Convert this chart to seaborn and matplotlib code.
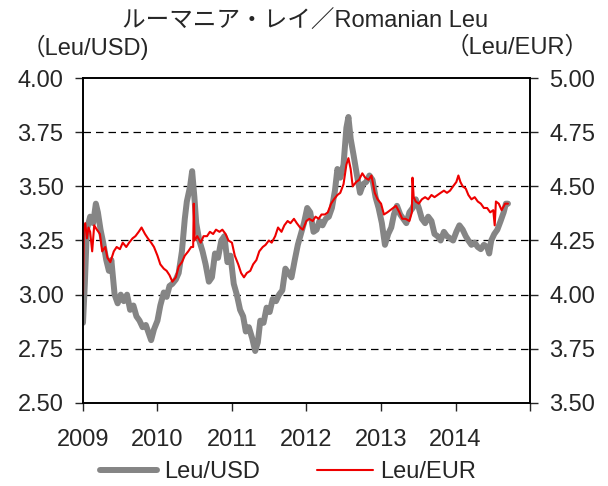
import pandas as pd
import seaborn as sns
import matplotlib
matplotlib.use("Agg")
from matplotlib import pyplot as plt

# Leu/USD (left axis)
usd_dates = [
    "2009-01-01", "2009-01-10", "2009-01-20", "2009-02-05", "2009-02-20", "2009-03-05",
    "2009-03-15", "2009-03-28", "2009-04-10", "2009-04-25", "2009-05-08", "2009-05-20",
    "2009-06-05", "2009-06-20", "2009-07-05", "2009-07-20", "2009-08-05", "2009-08-20",
    "2009-09-05", "2009-09-20", "2009-10-05", "2009-10-20", "2009-11-05", "2009-11-20",
    "2009-12-01", "2009-12-15", "2010-01-01", "2010-01-15", "2010-02-01", "2010-02-15",
    "2010-03-01", "2010-03-15", "2010-04-01", "2010-04-15", "2010-05-01", "2010-05-15",
    "2010-05-25", "2010-06-10", "2010-06-20", "2010-07-01", "2010-07-10", "2010-07-25",
    "2010-08-10", "2010-08-25", "2010-09-10", "2010-09-25", "2010-10-10", "2010-10-25",
    "2010-11-10", "2010-11-25", "2010-12-10", "2010-12-25", "2011-01-10", "2011-01-25",
    "2011-02-10", "2011-02-25", "2011-03-10", "2011-03-25", "2011-04-10", "2011-04-25",
    "2011-05-08", "2011-05-20", "2011-06-05", "2011-06-20", "2011-07-05", "2011-07-20",
    "2011-08-05", "2011-08-20", "2011-09-05", "2011-09-20", "2011-10-05", "2011-10-20",
    "2011-11-05", "2011-11-20", "2011-12-05", "2011-12-20", "2012-01-05", "2012-01-20",
    "2012-02-05", "2012-02-20", "2012-03-05", "2012-03-20", "2012-04-05", "2012-04-20",
    "2012-05-05", "2012-05-20", "2012-06-01", "2012-06-15", "2012-07-01", "2012-07-15",
    "2012-07-25", "2012-08-05", "2012-08-20", "2012-09-05", "2012-09-20", "2012-10-05",
    "2012-10-20", "2012-11-05", "2012-11-20", "2012-12-05", "2012-12-20", "2013-01-05",
    "2013-01-20", "2013-02-05", "2013-02-20", "2013-03-05", "2013-03-20", "2013-04-05",
    "2013-04-20", "2013-05-05", "2013-05-20", "2013-06-05", "2013-06-20", "2013-07-05",
    "2013-07-20", "2013-08-05", "2013-08-20", "2013-09-05", "2013-09-20", "2013-10-05",
    "2013-10-20", "2013-11-05", "2013-11-20", "2013-12-05", "2013-12-20", "2014-01-05",
    "2014-01-20", "2014-02-05", "2014-02-20", "2014-03-05", "2014-03-20", "2014-04-05",
    "2014-04-20", "2014-05-05", "2014-05-20", "2014-06-05", "2014-06-15", "2014-06-25",
    "2014-07-10", "2014-07-25", "2014-08-10", "2014-08-25", "2014-09-05", "2014-09-15",
]
usd_values = [
    2.87, 3.05, 3.30, 3.36, 3.33, 3.42,
    3.38, 3.30, 3.24, 3.16, 3.11, 3.16,
    3.00, 2.96, 3.00, 2.97, 3.00, 2.93,
    2.95, 2.90, 2.88, 2.85, 2.86, 2.82,
    2.79, 2.84, 2.88, 2.95, 3.01, 2.99,
    3.04, 3.05, 3.07, 3.10, 3.20, 3.35,
    3.43, 3.50, 3.57, 3.45, 3.33, 3.25,
    3.20, 3.14, 3.06, 3.08, 3.19, 3.17,
    3.25, 3.27, 3.15, 3.18, 3.05, 3.00,
    2.93, 2.90, 2.83, 2.85, 2.80, 2.74,
    2.78, 2.88, 2.87, 2.94, 2.92, 2.98,
    2.97, 3.00, 3.02, 3.12, 3.10, 3.08,
    3.16, 3.23, 3.28, 3.33, 3.40, 3.38,
    3.29, 3.30, 3.34, 3.32, 3.35, 3.36,
    3.40, 3.48, 3.58, 3.54, 3.60, 3.77,
    3.82, 3.72, 3.64, 3.55, 3.47, 3.51,
    3.52, 3.55, 3.53, 3.45, 3.40, 3.33,
    3.23, 3.28, 3.31, 3.37, 3.41, 3.37,
    3.35, 3.33, 3.38, 3.40, 3.44, 3.40,
    3.35, 3.33, 3.36, 3.34, 3.28, 3.27,
    3.25, 3.29, 3.27, 3.26, 3.25, 3.29,
    3.32, 3.30, 3.27, 3.25, 3.23, 3.24,
    3.22, 3.21, 3.23, 3.22, 3.19, 3.25,
    3.28, 3.30, 3.34, 3.38, 3.42, 3.42,
]

# Leu/EUR (right axis)
eur_dates = [
    "2009-01-01", "2009-01-05", "2009-01-12", "2009-01-20", "2009-01-28", "2009-02-05",
    "2009-02-15", "2009-02-25", "2009-03-10", "2009-03-25", "2009-04-05", "2009-04-20",
    "2009-05-01", "2009-05-15", "2009-06-01", "2009-06-15", "2009-07-01", "2009-07-15",
    "2009-08-01", "2009-08-15", "2009-09-01", "2009-09-15", "2009-10-01", "2009-10-15",
    "2009-11-01", "2009-11-15", "2009-12-01", "2009-12-15", "2010-01-01", "2010-01-15",
    "2010-02-01", "2010-02-15", "2010-03-01", "2010-03-15", "2010-04-01", "2010-04-15",
    "2010-05-01", "2010-05-15", "2010-06-01", "2010-06-15", "2010-06-25", "2010-06-28",
    "2010-07-02", "2010-07-15", "2010-08-01", "2010-08-15", "2010-09-01", "2010-09-15",
    "2010-10-01", "2010-10-15", "2010-11-01", "2010-11-15", "2010-12-01", "2010-12-15",
    "2011-01-01", "2011-01-15", "2011-02-01", "2011-02-15", "2011-03-01", "2011-03-15",
    "2011-04-01", "2011-04-15", "2011-05-01", "2011-05-15", "2011-06-01", "2011-06-15",
    "2011-07-01", "2011-07-15", "2011-08-01", "2011-08-15", "2011-09-01", "2011-09-15",
    "2011-10-01", "2011-10-15", "2011-11-01", "2011-11-15", "2011-12-01", "2011-12-15",
    "2012-01-01", "2012-01-15", "2012-02-01", "2012-02-15", "2012-03-01", "2012-03-15",
    "2012-04-01", "2012-04-15", "2012-05-01", "2012-05-15", "2012-06-01", "2012-06-15",
    "2012-07-01", "2012-07-15", "2012-07-25", "2012-08-05", "2012-08-15", "2012-09-01",
    "2012-09-15", "2012-10-01", "2012-10-15", "2012-11-01", "2012-11-15", "2012-12-01",
    "2012-12-15", "2013-01-01", "2013-01-15", "2013-02-01", "2013-02-15", "2013-03-01",
    "2013-03-15", "2013-04-01", "2013-04-15", "2013-05-01", "2013-05-20", "2013-06-01",
    "2013-06-04", "2013-06-10", "2013-06-20", "2013-07-05", "2013-07-20", "2013-08-05",
    "2013-08-20", "2013-09-05", "2013-09-20", "2013-10-05", "2013-10-20", "2013-11-05",
    "2013-11-20", "2013-12-05", "2013-12-20", "2014-01-05", "2014-01-15", "2014-01-25",
    "2014-02-05", "2014-02-20", "2014-03-05", "2014-03-20", "2014-04-05", "2014-04-20",
    "2014-05-05", "2014-05-20", "2014-06-05", "2014-06-20", "2014-07-05", "2014-07-12",
    "2014-07-18", "2014-08-01", "2014-08-15", "2014-09-01", "2014-09-15",
]
eur_values = [
    4.00, 4.30, 4.33, 4.26, 4.31, 4.29,
    4.20, 4.32, 4.30, 4.28, 4.20, 4.22,
    4.17, 4.15, 4.20, 4.22, 4.21, 4.24,
    4.22, 4.24, 4.26, 4.27, 4.29, 4.31,
    4.28, 4.26, 4.24, 4.22, 4.18, 4.14,
    4.12, 4.11, 4.09, 4.06, 4.08, 4.13,
    4.15, 4.18, 4.20, 4.22, 4.22, 4.42,
    4.25, 4.27, 4.24, 4.27, 4.27, 4.29,
    4.28, 4.30, 4.29, 4.30, 4.28, 4.25,
    4.24, 4.18, 4.14, 4.10, 4.08, 4.10,
    4.11, 4.14, 4.16, 4.20, 4.22, 4.23,
    4.25, 4.24, 4.27, 4.31, 4.29, 4.32,
    4.34, 4.33, 4.35, 4.33, 4.31, 4.30,
    4.34, 4.35, 4.34, 4.36, 4.35, 4.37,
    4.37, 4.38, 4.42, 4.44, 4.46, 4.47,
    4.51, 4.60, 4.63, 4.58, 4.50, 4.52,
    4.53, 4.56, 4.54, 4.53, 4.55, 4.47,
    4.44, 4.42, 4.37, 4.38, 4.39, 4.40,
    4.41, 4.38, 4.35, 4.35, 4.34, 4.38,
    4.54, 4.45, 4.43, 4.42, 4.44, 4.45,
    4.44, 4.46, 4.45, 4.46, 4.47, 4.48,
    4.47, 4.48, 4.50, 4.52, 4.55, 4.52,
    4.50, 4.49, 4.46, 4.44, 4.45, 4.43,
    4.42, 4.40, 4.40, 4.38, 4.39, 4.32,
    4.43, 4.42, 4.39, 4.42, 4.42,
]

years = ["2009", "2010", "2011", "2012", "2013", "2014", "2015"]
year_labels = ["2009", "2010", "2011", "2012", "2013", "2014", ""]
usd_ticks = [2.50, 2.75, 3.00, 3.25, 3.50, 3.75, 4.00]
eur_ticks = [3.50, 3.75, 4.00, 4.25, 4.50, 4.75, 5.00]

usd = pd.DataFrame({"date": pd.to_datetime(usd_dates), "rate": usd_values})
eur = pd.DataFrame({"date": pd.to_datetime(eur_dates), "rate": eur_values})

sns.set_style("white")
plt.rcParams['font.family'] = ['Liberation Sans', 'Noto Sans CJK JP', 'DejaVu Sans']
fs = 17

fig = plt.figure(figsize=(6.08, 4.86), dpi=100)
ax = fig.add_axes([0.1365, 0.1708, 0.7352, 0.6687])
ax2 = ax.twinx()

sns.lineplot(data=usd, x="date", y="rate", ax=ax, color="#858585", linewidth=4.3,
             estimator=None, label="Leu/USD", legend=False)
sns.lineplot(data=eur, x="date", y="rate", ax=ax2, color="#ee0000", linewidth=1.5,
             estimator=None, label="Leu/EUR", legend=False)

xt = pd.to_datetime(years)
ax.set_xlim(xt[0], xt[-1])
ax.set_xticks(xt)
ax.set_xticklabels(year_labels)
ax.set_ylim(2.5, 4.0)
ax.set_yticks(usd_ticks)
ax.set_yticklabels([f"{v:.2f}" for v in usd_ticks])
ax2.set_ylim(3.5, 5.0)
ax2.set_yticks(eur_ticks)
ax2.set_yticklabels([f"{v:.2f}" for v in eur_ticks])

for v in usd_ticks[1:-1]:
    ax.axhline(v, color="black", linewidth=0.9, linestyle=(0, (6, 4)), zorder=0)

for a in (ax, ax2):
    a.set_xlabel("")
    a.set_ylabel("")
    for s in a.spines.values():
        s.set_color("black")
        s.set_linewidth(1.2)
ax.tick_params(axis="y", direction="out", length=6, width=1, pad=8, labelsize=fs, left=True)
ax.tick_params(axis="x", direction="out", length=6, width=1, pad=13, labelsize=fs, bottom=True)
ax2.tick_params(axis="y", direction="out", length=6, width=1, pad=8, labelsize=fs, right=True)

fig.text(0.502, 0.955, "ルーマニア・レイ／Romanian Leu", ha="center", va="center", fontsize=fs)
fig.text(0.035, 0.902, "（Leu/USD)", ha="left", va="center", fontsize=fs)
fig.text(0.968, 0.902, "（Leu/EUR）", ha="right", va="center", fontsize=fs)

h1, l1 = ax.get_legend_handles_labels()
h2, l2 = ax2.get_legend_handles_labels()
fig.legend(h1 + h2, l1 + l2, loc="center", bbox_to_anchor=(0.474, 0.028), ncol=2,
           frameon=False, fontsize=fs, handlelength=2.4, handletextpad=0.3,
           columnspacing=2.4, borderaxespad=0, borderpad=0)

fig.savefig("out.png", dpi=100)
